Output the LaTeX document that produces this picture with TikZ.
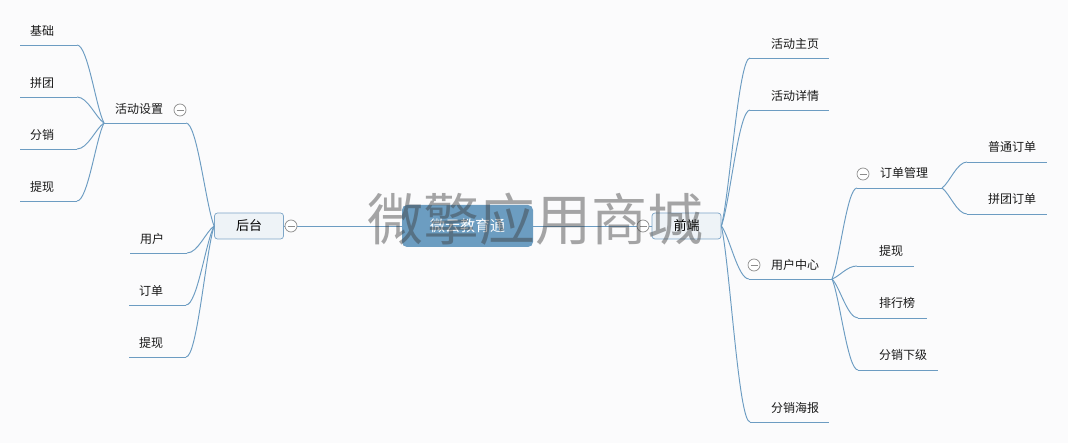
\documentclass[tikz,border=0pt]{standalone}
\usepackage{fontspec}
\newfontfamily\cjk{Noto Sans CJK SC}
\usetikzlibrary{calc}
\definecolor{bg}{RGB}{251,251,252}
\definecolor{ln}{RGB}{108,156,194}
\definecolor{cfill}{RGB}{108,157,193}
\definecolor{bfill}{RGB}{238,243,247}
\definecolor{bdraw}{RGB}{125,166,200}
\definecolor{cc}{RGB}{140,140,140}
\definecolor{wm}{RGB}{60,60,60}
\begin{document}
\begin{tikzpicture}[x=1pt,y=-1pt,
  conn/.style={draw=ln, line width=0.95pt},
  branch/.style={to path={let \p1=(\tikztostart),\p2=(\tikztotarget) in
     .. controls ({\x1+0.3*(\x2-\x1)},{\y1+0.2*(\y2-\y1)}) and ({\x2-0.4*(\x2-\x1)},\y2) .. (\tikztotarget) \tikztonodes}},
  leaf/.style={font=\cjk\fontsize{12}{14}\selectfont, inner sep=0pt, text=black!90},
  topbox/.style={draw=bdraw, fill=bfill, rounded corners=3pt, line width=0.7pt,
     minimum width=69pt, minimum height=26pt, inner sep=0pt, font=\cjk\fontsize{13}{15}\selectfont},
  rootbox/.style={fill=cfill, rounded corners=5pt, minimum width=131pt, minimum height=42pt,
     inner sep=0pt, text=white, font=\cjk\fontsize{15}{17}\selectfont},
  fold/.style={circle, draw=cc, fill=white, line width=0.7pt, minimum size=12pt, inner sep=0pt,
     path picture={\draw[cc, line width=0.7pt] ([xshift=-3.5pt]path picture bounding box.center) -- ([xshift=3.5pt]path picture bounding box.center);}},
  watermark/.style={font=\cjk\fontsize{56}{60}\selectfont, text=wm, text opacity=0.45, inner sep=0pt}
]
\fill[bg] (0,0) rectangle (1068,443);
\useasboundingbox (0,0) rectangle (1068,443);

% ---- main nodes
\node[rootbox] (root) at (467.5,226) {微云教育通};
\node[topbox] (back) at (249,226) {后台};
\node[topbox] (front) at (686.5,226) {前端};

\draw[conn] (back.east) -- (root.west);
\draw[conn] (root.east) -- (front.west);
\node[fold] (backfold) at (291,226) {};
\node[fold] (frontfold) at (643,226) {};

% ---- convergence points
\coordinate (bk) at (back.west);
\coordinate (fr) at (front.east);
\coordinate (hs) at (104,123);
\coordinate (uc) at (832,279);
\coordinate (om) at (942,188);

% ---- left: 后台 children
\coordinate (hsA) at (104,123); \coordinate (hsB) at (186,123);
\node[leaf, anchor=west] (hst) at (115,109) {活动设置};
\coordinate (yhA) at (130,253); \coordinate (yhB) at (187,253);
\node[leaf, anchor=west] (yht) at (140,239) {用户};
\coordinate (ddA) at (129,305); \coordinate (ddB) at (186,305);
\node[leaf, anchor=west] (ddt) at (139,291) {订单};
\coordinate (txA) at (129,357); \coordinate (txB) at (186,357);
\node[leaf, anchor=west] (txt) at (139,343) {提现};
\foreach \k in {hs,yh,dd,tx}{
  \draw[conn] (\k A) -- (\k B);
  \draw[conn] (bk) to[branch] (\k B);
}

% ---- 活动设置 children
\coordinate (jcA) at (20,45); \coordinate (jcB) at (77,45);
\node[leaf, anchor=west] (jct) at (30,31) {基础};
\coordinate (ptA) at (20,97); \coordinate (ptB) at (77,97);
\node[leaf, anchor=west] (ptt) at (30,83) {拼团};
\coordinate (fxA) at (20,149); \coordinate (fxB) at (77,149);
\node[leaf, anchor=west] (fxt) at (30,135) {分销};
\coordinate (tyA) at (20,201); \coordinate (tyB) at (77,201);
\node[leaf, anchor=west] (tyt) at (30,187) {提现};
\foreach \k in {jc,pt,fx,ty}{
  \draw[conn] (\k A) -- (\k B);
  \draw[conn] (hs) to[branch] (\k B);
}

% ---- right: 前端 children
\coordinate (zyA) at (750,58); \coordinate (zyB) at (829,58);
\node[leaf, anchor=west] (zyt) at (771,44) {活动主页};
\coordinate (xqA) at (750,110); \coordinate (xqB) at (829,110);
\node[leaf, anchor=west] (xqt) at (771,96) {活动详情};
\coordinate (ucA) at (749,279); \coordinate (ucB) at (832,279);
\node[leaf, anchor=west] (uct) at (771,265) {用户中心};
\coordinate (hbA) at (750,422); \coordinate (hbB) at (829,422);
\node[leaf, anchor=west] (hbt) at (771,408) {分销海报};
\foreach \k in {zy,xq,uc,hb}{
  \draw[conn] (fr) to[branch] (\k A);
  \draw[conn] (\k A) -- (\k B);
}

% ---- 用户中心 children
\coordinate (omA) at (857,188); \coordinate (omB) at (942,188);
\node[leaf, anchor=west] (omt) at (880,173) {订单管理};
\coordinate (rtA) at (857,266); \coordinate (rtB) at (914,266);
\node[leaf, anchor=west] (rtt) at (879,251) {提现};
\coordinate (phA) at (858,318); \coordinate (phB) at (927,318);
\node[leaf, anchor=west] (pht) at (879,303) {排行榜};
\coordinate (xjA) at (858,370); \coordinate (xjB) at (938,370);
\node[leaf, anchor=west] (xjt) at (879,355) {分销下级};
\foreach \k in {om,rt,ph,xj}{
  \draw[conn] (uc) to[branch] (\k A);
  \draw[conn] (\k A) -- (\k B);
}

% ---- 订单管理 children
\coordinate (ptdA) at (967,162); \coordinate (ptdB) at (1047,162);
\node[leaf, anchor=west] (ptdt) at (988,147) {普通订单};
\coordinate (pgdA) at (967,214); \coordinate (pgdB) at (1047,214);
\node[leaf, anchor=west] (pgdt) at (988,199) {拼团订单};
\foreach \k in {ptd,pgd}{
  \draw[conn] (om) to[branch] (\k A);
  \draw[conn] (\k A) -- (\k B);
}

% ---- fold markers
\node[fold] (hsfold) at (180,110) {};
\node[fold] (ucfold) at (754,265) {};
\node[fold] (omfold) at (863,174) {};

% ---- watermark
\node[watermark] (wmark) at (535,219) {微擎应用商城};
\end{tikzpicture}
\end{document}
